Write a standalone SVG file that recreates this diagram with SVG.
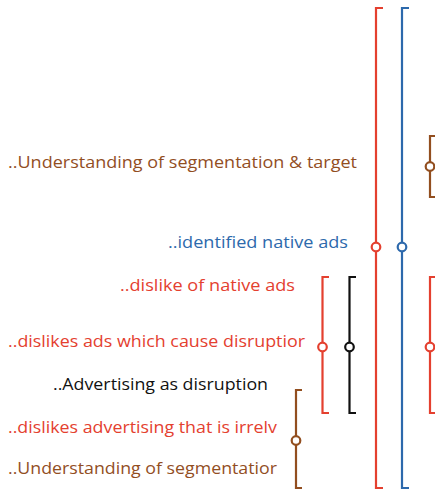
<svg xmlns="http://www.w3.org/2000/svg" width="435" height="491" viewBox="0 0 435 491">
<style>
text{font-family:"Open Sans","Noto Sans","DejaVu Sans",sans-serif;font-size:17px}
.br{fill:none;stroke-width:2.2}
.dot{fill:#fff;stroke-width:2.2}
.red{stroke:#E4402F}.blue{stroke:#2D69AC}.brown{stroke:#924E1F}.black{stroke:#111}
.tred{fill:#E4402F}.tblue{fill:#2D69AC}.tbrown{fill:#924E1F}.tblack{fill:#111}
</style>
<rect width="435" height="491" fill="#fff"/>
<g id="labels">
<g id="n1"><text class="tbrown" x="8" y="168" textLength="349" lengthAdjust="spacingAndGlyphs">..Understanding of segmentation &amp; target</text></g>
<g id="n2"><text class="tblue" x="168" y="248" textLength="180" lengthAdjust="spacingAndGlyphs">..identified native ads</text></g>
<g id="n3"><text class="tred" x="120" y="291" textLength="175" lengthAdjust="spacingAndGlyphs">..dislike of native ads</text></g>
<g id="n4"><text class="tred" x="8" y="347" textLength="297" lengthAdjust="spacingAndGlyphs">..dislikes ads which cause disruptior</text></g>
<g id="n5"><text class="tblack" x="53" y="390" textLength="215" lengthAdjust="spacingAndGlyphs">..Advertising as disruption</text></g>
<g id="n6"><text class="tred" x="8" y="433" textLength="269" lengthAdjust="spacingAndGlyphs">..dislikes advertising that is irrelv</text></g>
<g id="n7"><text class="tbrown" x="8" y="474" textLength="269" lengthAdjust="spacingAndGlyphs">..Understanding of segmentatior</text></g>
</g>
<g id="connectors">
<path class="br red" d="M383,8 H376 V488 H383"/>
<circle class="dot red" cx="376" cy="247" r="4.3"/>
<path class="br blue" d="M409,8 H402 V488 H409"/>
<circle class="dot blue" cx="402" cy="247" r="4.3"/>
<path class="br brown" d="M437,136 H430 V197 H437"/>
<circle class="dot brown" cx="430" cy="166.5" r="4.3"/>
<path class="br red" d="M437,277 H430 V413 H437"/>
<circle class="dot red" cx="430" cy="347" r="4.3"/>
<path class="br red" d="M329,277 H322.5 V413 H329"/>
<circle class="dot red" cx="322.5" cy="347" r="4.3"/>
<path class="br black" d="M356,277 H349.5 V413 H356"/>
<circle class="dot black" cx="349.5" cy="347" r="4.3"/>
<path class="br brown" d="M302,390 H296 V488 H302"/>
<circle class="dot brown" cx="296" cy="440.5" r="4.3"/>
</g>
</svg>
